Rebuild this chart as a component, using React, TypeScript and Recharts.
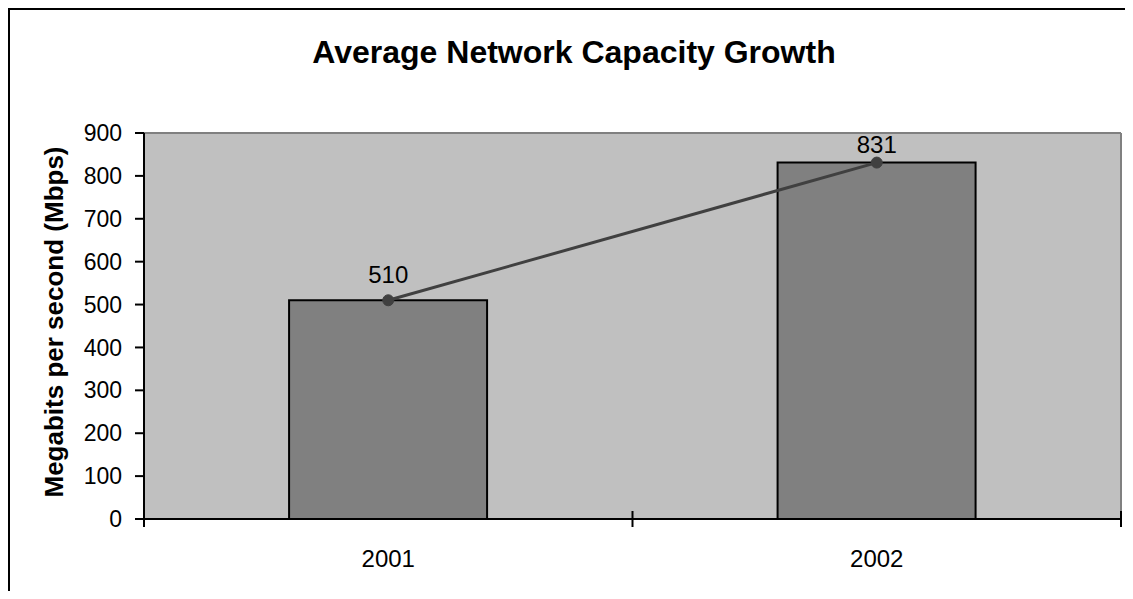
import React from 'react';
import {
  ComposedChart,
  Bar,
  Line,
  XAxis,
  YAxis,
  CartesianGrid,
  LabelList,
  ReferenceLine,
} from 'recharts';

// Average network capacity per year, in megabits per second
const years = ['2001', '2002'];
const capacityMbps = [510, 831];
const yTicks = [0, 100, 200, 300, 400, 500, 600, 700, 800, 900];
const yMax = yTicks[yTicks.length - 1];

const chartTitle = 'Average Network Capacity Growth';
const yAxisTitle = 'Megabits per second (Mbps)';

const data = years.map((year, i) => ({ year, mbps: capacityMbps[i] }));

const FONT = '"Liberation Sans", Arial, Helvetica, sans-serif';
const CHART_W = 1123;
const CHART_H = 589;
const MARGIN = { top: 123, right: 12, bottom: 0, left: 0 };
const FRAME = '#808080';

// Category tick: label centred in the band, tick marks on the band edges crossing the axis
const XTick = (props: any) => {
  const { x, y, payload, index, visibleTicksCount } = props;
  const half = payload && typeof payload.offset === 'number' ? payload.offset : 0;
  const isLast = index === visibleTicksCount - 1;
  return (
    <g>
      <line x1={x - half} x2={x - half} y1={y - 8} y2={y + 8} stroke="#000" strokeWidth={2} />
      {isLast && (
        <line x1={x + half} x2={x + half} y1={y - 8} y2={y + 8} stroke="#000" strokeWidth={2} />
      )}
      <text x={x} y={y + 48} textAnchor="middle" fontFamily={FONT} fontSize={24} fill="#000">
        {payload.value}
      </text>
    </g>
  );
};

// Value labels sit above each point, kept inside the plot area
const ValueLabel = (props: any) => {
  const { x, y, value } = props;
  const baseline = Math.max(y - 17, MARGIN.top + 20);
  return (
    <text x={x} y={baseline} textAnchor="middle" fontFamily={FONT} fontSize={24} fill="#000">
      {value}
    </text>
  );
};

const YTitle = (props: any) => {
  const { viewBox } = props;
  const cx = viewBox.x + 53;
  const cy = viewBox.y + viewBox.height / 2 - 4;
  return (
    <text
      x={cx}
      y={cy}
      transform={`rotate(-90, ${cx}, ${cy})`}
      textAnchor="middle"
      fontFamily={FONT}
      fontWeight="bold"
      fontSize={26}
      fill="#000"
    >
      {yAxisTitle}
    </text>
  );
};

export default function App() {
  return (
    <div
      style={{
        position: 'relative',
        width: 1115,
        height: 581,
        borderTop: '2px solid #000',
        borderLeft: '2px solid #000',
        overflow: 'hidden',
        background: '#fff',
      }}
    >
      <ComposedChart
        width={CHART_W}
        height={CHART_H}
        data={data}
        margin={MARGIN}
        barCategoryGap="29.7%"
      >
        <CartesianGrid horizontal={false} vertical={false} fill="#C0C0C0" stroke="none" />
        <XAxis
          dataKey="year"
          height={80}
          axisLine={{ stroke: '#000', strokeWidth: 2 }}
          tickLine={false}
          tickSize={0}
          tickMargin={0}
          tick={<XTick />}
          interval={0}
        />
        <YAxis
          domain={[0, yMax]}
          ticks={yTicks}
          interval={0}
          width={134}
          axisLine={{ stroke: '#000', strokeWidth: 2 }}
          tickLine={{ stroke: '#000', strokeWidth: 2 }}
          tickSize={9}
          tickMargin={13}
          tick={{ fill: '#000', fontSize: 23, fontFamily: FONT }}
          label={<YTitle />}
        />
        {/* plot-area frame: top and right edges */}
        <ReferenceLine y={yMax} stroke={FRAME} strokeWidth={2} />
        <ReferenceLine x={years[years.length - 1]} position="end" stroke={FRAME} strokeWidth={2} />
        <Bar
          dataKey="mbps"
          fill="#808080"
          stroke="#000"
          strokeWidth={2}
          isAnimationActive={false}
        />
        <Line
          dataKey="mbps"
          stroke="#404040"
          strokeWidth={3}
          dot={{ r: 5.5, fill: '#404040', stroke: '#404040', strokeWidth: 1 }}
          activeDot={false}
          isAnimationActive={false}
        >
          <LabelList dataKey="mbps" content={<ValueLabel />} />
        </Line>
      </ComposedChart>
      <svg
        width={CHART_W}
        height={CHART_H}
        style={{ position: 'absolute', left: 0, top: 0, pointerEvents: 'none' }}
      >
        <text
          x={564}
          y={53}
          textAnchor="middle"
          fontFamily={FONT}
          fontWeight="bold"
          fontSize={32}
          fill="#000"
        >
          {chartTitle}
        </text>
      </svg>
    </div>
  );
}
